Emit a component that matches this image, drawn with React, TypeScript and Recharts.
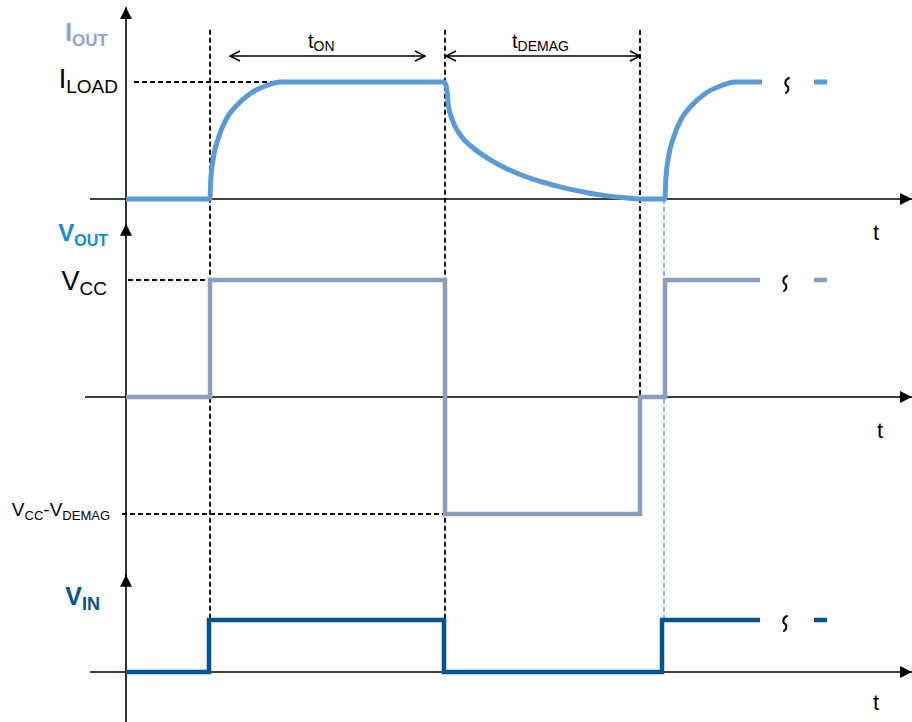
import React from 'react';
import { LineChart, Line, XAxis, YAxis, ReferenceLine, ReferenceDot } from 'recharts';

// time in arbitrary units (0 = vertical axis)
const ioutT = [0, 8.4, 8.47, 8.73, 9.23, 10.07, 11.07, 12.4, 14.07, 15.4, 31.8, 32.07, 32.23, 32.57, 33.4, 34.73, 36.4, 38.07, 39.73, 41.4, 43.23, 44.7, 46.4, 48.1, 49.9, 51.4, 53.9, 53.97, 54.23, 54.73, 55.57, 56.57, 57.9, 59.57, 60.9, 63.6];
const ioutV = [0, 0, 0.15, 0.35, 0.52, 0.69, 0.8, 0.9, 0.97, 1, 1, 0.946, 0.806, 0.69, 0.55, 0.436, 0.336, 0.259, 0.199, 0.151, 0.108, 0.078, 0.05, 0.027, 0.01, 0, 0, 0.15, 0.35, 0.52, 0.69, 0.8, 0.9, 0.97, 1, 1];

const voutT = [0, 8.4, 8.4, 31.9, 31.9, 51.4, 51.4, 53.9, 53.9, 63.4];
const voutV = [0, 0, 1, 1, -1, -1, 0, 0, 1, 1];

const vinT = [0, 8.3, 8.3, 31.8, 31.8, 53.6, 53.6, 63.4];
const vinV = [0, 0, 1, 1, 0, 0, 1, 1];

const tailT = [68.8, 70.1];
const breakT = 66.1;

const T_ON = 8.4;
const T_OFF = 31.9;
const T_DEMAG_END = 51.4;
const T_REON = 53.9;

const zip = (t: number[], v: number[]) => t.map((x, i) => ({ t: x, v: v[i] }));
const ioutData = zip(ioutT, ioutV);
const voutData = zip(voutT, voutV);
const vinData = zip(vinT, vinV);
const tail = (v: number) => tailT.map((t) => ({ t, v }));

const C_IOUT = '#5b9bd5';
const C_VOUT = '#8c9fba';
const C_VIN = '#00558f';
const FONT = '"Liberation Sans", Arial, sans-serif';

type Seg = { x1: number; y1: number; x2: number; y2: number };
type Part = [string, boolean?];

function segShape(stroke: string, width: number, dash?: string, ms?: string, me?: string) {
  return (p: any) => (
    <line
      x1={p.x1}
      y1={p.y1}
      x2={p.x2}
      y2={p.y2}
      stroke={stroke}
      strokeWidth={width}
      strokeDasharray={dash}
      markerStart={ms}
      markerEnd={me}
    />
  );
}

function seg(key: string, axis: string, s: Seg, shape: any) {
  return (
    <ReferenceLine
      key={key}
      yAxisId={axis}
      segment={[
        { x: s.x1, y: s.y1 },
        { x: s.x2, y: s.y2 },
      ]}
      ifOverflow="visible"
      shape={shape}
    />
  );
}

function note(
  key: string,
  axis: string,
  x: number,
  y: number,
  dx: number,
  dy: number,
  parts: Part[],
  size: number,
  subSize: number,
  opts: { color?: string; bold?: boolean; anchor?: string; subDy?: number } = {}
) {
  const sd = opts.subDy ?? 5;
  return (
    <ReferenceDot
      key={key}
      yAxisId={axis}
      x={x}
      y={y}
      r={0}
      ifOverflow="visible"
      shape={(p: any) => {
        let down = false;
        return (
          <text
            x={p.cx + dx}
            y={p.cy + dy}
            textAnchor={opts.anchor ?? 'end'}
            fontFamily={FONT}
            fontSize={size}
            fontWeight={opts.bold ? 'bold' : 'normal'}
            fill={opts.color ?? '#000'}
          >
            {parts.map(([txt, sub], i) => {
              const shift = sub && !down ? sd : !sub && down ? -sd : 0;
              down = !!sub;
              return (
                <tspan key={i} fontSize={sub ? subSize : size} dy={shift}>
                  {txt}
                </tspan>
              );
            })}
          </text>
        );
      }}
    />
  );
}

// little vertical squiggle marking the time break
function squiggle(key: string, axis: string, x: number, y: number) {
  return (
    <ReferenceDot
      key={key}
      yAxisId={axis}
      x={x}
      y={y}
      r={0}
      ifOverflow="visible"
      shape={(p: any) => (
        <path
          d={`M${p.cx + 2},${p.cy - 4} C${p.cx - 3},${p.cy - 2} ${p.cx - 2},${p.cy + 3} ${p.cx},${p.cy + 4} S${p.cx + 2},${p.cy + 9} ${p.cx - 1},${p.cy + 11}`}
          fill="none"
          stroke="#000"
          strokeWidth={2}
          strokeLinecap="round"
        />
      )}
    />
  );
}

const axisShape = segShape('#000', 1.6, undefined, undefined, 'url(#arrowHead)');
const dashShape = segShape('#000', 1.8, '5 3');
const blueDash = segShape(C_IOUT, 1.5, '5 3');
const dimShape = segShape('#000', 1.5, undefined, 'url(#chevron)', 'url(#chevron)');

export default function App() {
  return (
    <div style={{ position: 'absolute', left: 0, top: 0, background: '#fff' }}>
      <LineChart width={912} height={722} margin={{ top: 0, right: 0, bottom: 0, left: 0 }}>
        <defs>
          <marker id="arrowHead" viewBox="0 0 12 12" refX="12" refY="6" markerWidth="12" markerHeight="12" markerUnits="userSpaceOnUse" orient="auto">
            <path d="M0,0 L12,6 L0,12 z" fill="#000" />
          </marker>
          <marker id="chevron" viewBox="0 0 12 12" refX="11" refY="6" markerWidth="12" markerHeight="12" markerUnits="userSpaceOnUse" orient="auto-start-reverse">
            <path d="M1,1 L11,6 L1,11" fill="none" stroke="#000" strokeWidth={1.6} />
          </marker>
        </defs>
        <XAxis type="number" dataKey="t" domain={[-12.6, 78.6]} allowDataOverflow hide />
        <YAxis yAxisId="iout" type="number" domain={[-4.47, 1.701]} allowDataOverflow hide />
        <YAxis yAxisId="vout" type="number" domain={[-2.778, 3.393]} allowDataOverflow hide />
        <YAxis yAxisId="vin" type="number" domain={[-0.9615, 12.923]} allowDataOverflow hide />

        {/* axes */}
        {seg('ax-i-h', 'iout', { x1: -3.6, y1: 0, x2: 78.6, y2: 0 }, axisShape)}
        {seg('ax-v-h', 'vout', { x1: -4.1, y1: 0, x2: 78.6, y2: 0 }, axisShape)}
        {seg('ax-n-h', 'vin', { x1: -3.6, y1: 0, x2: 78.6, y2: 0 }, axisShape)}
        {seg('ax-i-v', 'iout', { x1: 0, y1: -0.32, x2: 0, y2: 1.64 }, axisShape)}
        {seg('ax-v-v', 'vout', { x1: 0, y1: -1.61, x2: 0, y2: 1.48 }, axisShape)}
        {seg('ax-n-v', 'vin', { x1: 0, y1: -0.97, x2: 0, y2: 1.87 }, axisShape)}

        {/* guide lines */}
        {seg('d-on', 'vin', { x1: T_ON, y1: 12.35, x2: T_ON, y2: 1 }, dashShape)}
        {seg('d-off', 'vin', { x1: T_OFF, y1: 12.35, x2: T_OFF, y2: 1 }, dashShape)}
        {seg('d-dem', 'vout', { x1: T_DEMAG_END, y1: 3.137, x2: T_DEMAG_END, y2: 0 }, dashShape)}
        {seg('d-reon', 'vin', { x1: T_REON - 0.1, y1: 9.1, x2: T_REON - 0.1, y2: 1 }, blueDash)}
        {seg('h-load', 'iout', { x1: 0.8, y1: 1, x2: T_OFF, y2: 1 }, dashShape)}
        {seg('h-vcc', 'vout', { x1: 0.2, y1: 1, x2: T_OFF, y2: 1 }, dashShape)}
        {seg('h-dem', 'vout', { x1: -0.4, y1: -1, x2: T_OFF, y2: -1 }, dashShape)}

        {/* durations */}
        {seg('dim-on', 'iout', { x1: 10.4, y1: 1.222, x2: 29.9, y2: 1.222 }, dimShape)}
        {seg('dim-dem', 'iout', { x1: 32.0, y1: 1.222, x2: T_DEMAG_END, y2: 1.222 }, dimShape)}

        <Line data={ioutData} yAxisId="iout" dataKey="v" type="monotone" stroke={C_IOUT} strokeWidth={5} dot={false} activeDot={false} isAnimationActive={false} strokeLinejoin="round" />
        <Line data={tail(1)} yAxisId="iout" dataKey="v" type="linear" stroke={C_IOUT} strokeWidth={5} dot={false} activeDot={false} isAnimationActive={false} />
        <Line data={voutData} yAxisId="vout" dataKey="v" type="linear" stroke={C_VOUT} strokeWidth={4.5} dot={false} activeDot={false} isAnimationActive={false} strokeLinejoin="miter" />
        <Line data={tail(1)} yAxisId="vout" dataKey="v" type="linear" stroke={C_VOUT} strokeWidth={4.5} dot={false} activeDot={false} isAnimationActive={false} />
        <Line data={vinData} yAxisId="vin" dataKey="v" type="linear" stroke={C_VIN} strokeWidth={4.5} dot={false} activeDot={false} isAnimationActive={false} strokeLinejoin="miter" />
        <Line data={tail(1)} yAxisId="vin" dataKey="v" type="linear" stroke={C_VIN} strokeWidth={4.5} dot={false} activeDot={false} isAnimationActive={false} />

        {/* labels */}
        {note('l-iout', 'iout', 0, 1, -18, -41, [['I'], ['OUT', true]], 26, 17, { color: '#8ea6cf', bold: true })}
        {note('l-iload', 'iout', 0, 1, -8, 6, [['I'], ['LOAD', true]], 27, 19)}
        {note('l-vout', 'vout', 0, 1, -18, -39, [['V'], ['OUT', true]], 24, 16, { color: '#1a8ad0', bold: true })}
        {note('l-vcc', 'vout', 0, 1, -19, 10, [['V'], ['CC', true]], 27, 19)}
        {note('l-vdem', 'vout', 0, -1, -16, 2, [['V'], ['CC', true], ['-V'], ['DEMAG', true]], 19, 13, { subDy: 4 })}
        {note('l-vin', 'vin', 0, 1, -26, -15, [['V'], ['IN', true]], 25, 18, { color: C_VIN, bold: true })}
        {note('l-ton', 'iout', 18.2, 1.222, 0, -8, [['t'], ['ON', true]], 20, 14, { anchor: 'start', subDy: 3 })}
        {note('l-tdem', 'iout', 38.6, 1.222, 0, -8, [['t'], ['DEMAG', true]], 20, 14, { anchor: 'start', subDy: 3 })}
        {note('t1', 'iout', 74.7, 0, 0, 41, [['t']], 22, 22, { anchor: 'start' })}
        {note('t2', 'vout', 75.1, 0, 0, 41, [['t']], 22, 22, { anchor: 'start' })}
        {note('t3', 'vin', 74.7, 0, 0, 38, [['t']], 22, 22, { anchor: 'start' })}
        {squiggle('w1', 'iout', breakT, 1)}
        {squiggle('w2', 'vout', breakT - 0.2, 1)}
        {squiggle('w3', 'vin', breakT - 0.2, 1)}
      </LineChart>
    </div>
  );
}
